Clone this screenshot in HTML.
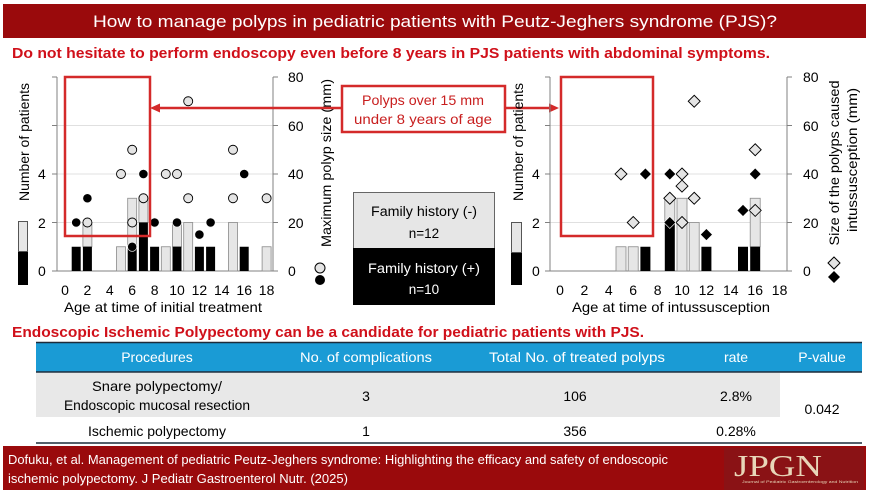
<!DOCTYPE html>
<html><head><meta charset="utf-8"><style>
html,body{margin:0;padding:0;background:#fff;}
svg{display:block;font-family:"Liberation Sans",sans-serif;}
</style></head><body>
<svg width="869" height="492" viewBox="0 0 869 492" xmlns="http://www.w3.org/2000/svg">
<!-- header -->
<rect x="3" y="4" width="863" height="34" fill="#9a0a0c"/>
<text x="435" y="27" fill="#fff" font-size="17" text-anchor="middle" textLength="684" lengthAdjust="spacingAndGlyphs">How to manage polyps in pediatric patients with Peutz-Jeghers syndrome (PJS)?</text>
<text x="12" y="58" fill="#d0101a" font-size="15" font-weight="bold" textLength="758" lengthAdjust="spacingAndGlyphs">Do not hesitate to perform endoscopy even before 8 years in PJS patients with abdominal symptoms.</text>

<!-- LEFT CHART -->
<g stroke="#e0e0e0" stroke-width="1">
<line x1="57" y1="222.5" x2="273" y2="222.5"/><line x1="57" y1="174" x2="273" y2="174"/><line x1="57" y1="125.5" x2="273" y2="125.5"/>
</g>
<g stroke="#808080" stroke-width="1" fill="none">
<line x1="57" y1="77" x2="57" y2="271"/><line x1="273" y1="77" x2="273" y2="271"/><line x1="57" y1="271" x2="273" y2="271"/>
<line x1="52" y1="77" x2="57" y2="77"/><line x1="52" y1="271" x2="57" y2="271"/><line x1="52" y1="222.5" x2="57" y2="222.5"/><line x1="52" y1="174" x2="57" y2="174"/><line x1="52" y1="125.5" x2="57" y2="125.5"/>
<line x1="273" y1="77" x2="278" y2="77"/><line x1="273" y1="125.5" x2="278" y2="125.5"/><line x1="273" y1="174" x2="278" y2="174"/><line x1="273" y1="222.5" x2="278" y2="222.5"/><line x1="273" y1="271" x2="278" y2="271"/>
</g>
<g fill="#e6e6e6" stroke="#8a8a8a" stroke-width="0.8">
<rect x="82.9" y="222.5" width="9" height="24.25"/>
<rect x="116.5" y="246.75" width="9" height="24.25"/>
<rect x="127.7" y="198.25" width="9" height="48.5"/>
<rect x="138.9" y="198.25" width="9" height="24.25"/>
<rect x="161.3" y="246.75" width="9" height="24.25"/>
<rect x="172.5" y="222.5" width="9" height="24.25"/>
<rect x="183.7" y="222.5" width="9" height="48.5"/>
<rect x="228.5" y="222.5" width="9" height="48.5"/>
<rect x="262.1" y="246.75" width="9" height="24.25"/>
</g>
<g fill="#000">
<rect x="71.7" y="246.75" width="9" height="24.25"/>
<rect x="82.9" y="246.75" width="9" height="24.25"/>
<rect x="127.7" y="246.75" width="9" height="24.25"/>
<rect x="138.9" y="222.5" width="9" height="48.5"/>
<rect x="150.1" y="246.75" width="9" height="24.25"/>
<rect x="172.5" y="246.75" width="9" height="24.25"/>
<rect x="194.9" y="246.75" width="9" height="24.25"/>
<rect x="206.1" y="246.75" width="9" height="24.25"/>
<rect x="239.7" y="246.75" width="9" height="24.25"/>
</g>
<g stroke="#000" stroke-width="0.9" fill="#e4e4e4">
<circle cx="87.4" cy="222.5" r="4.5"/><circle cx="121" cy="174" r="4.5"/><circle cx="132.2" cy="149.75" r="4.5"/><circle cx="132.2" cy="222.5" r="4.5"/><circle cx="143.4" cy="198.25" r="4.5"/><circle cx="165.8" cy="174" r="4.5"/><circle cx="177" cy="174" r="4.5"/><circle cx="188.2" cy="101.25" r="4.5"/><circle cx="188.2" cy="198.25" r="4.5"/><circle cx="233" cy="149.75" r="4.5"/><circle cx="233" cy="198.25" r="4.5"/><circle cx="266.6" cy="198.25" r="4.5"/>
</g>
<g stroke="#fff" stroke-width="0.6" fill="#000">
<circle cx="76.2" cy="222.5" r="4.6"/><circle cx="87.4" cy="198.25" r="4.6"/><circle cx="132.2" cy="246.75" r="4.6"/><circle cx="143.4" cy="174" r="4.6"/><circle cx="154.6" cy="222.5" r="4.6"/><circle cx="177" cy="222.5" r="4.6"/><circle cx="199.4" cy="234.6" r="4.6"/><circle cx="210.6" cy="222.5" r="4.6"/><circle cx="244.2" cy="174" r="4.6"/>
</g>
<g font-size="14" fill="#000">
<text x="38" y="276">0</text><text x="38" y="228">2</text><text x="38" y="179">4</text>
<text x="288" y="82">80</text><text x="288" y="131">60</text><text x="288" y="179">40</text><text x="288" y="228">20</text><text x="288" y="276">0</text>
</g>
<g font-size="14" text-anchor="middle">
<text x="65" y="295">0</text><text x="87.4" y="295">2</text><text x="109.8" y="295">4</text><text x="132.2" y="295">6</text><text x="154.6" y="295">8</text><text x="177" y="295">10</text><text x="199.4" y="295">12</text><text x="221.8" y="295">14</text><text x="244.2" y="295">16</text><text x="266.6" y="295">18</text>
<text x="163" y="312" textLength="198" lengthAdjust="spacingAndGlyphs">Age at time of initial treatment</text>
<text transform="translate(29,142) rotate(-90)" textLength="118" lengthAdjust="spacingAndGlyphs">Number of patients</text>
<text transform="translate(331,163) rotate(-90)" textLength="168" lengthAdjust="spacingAndGlyphs">Maximum polyp size (mm)</text>
</g>
<rect x="18.5" y="221.5" width="9" height="30" fill="#e6e6e6" stroke="#555" stroke-width="1"/>
<rect x="18" y="252" width="10" height="33" fill="#000"/>
<circle cx="320" cy="268" r="5" fill="#e4e4e4" stroke="#000"/>
<circle cx="320" cy="280" r="5" fill="#000"/>
<rect x="65" y="77" width="85" height="159" fill="none" stroke="#d42a2a" stroke-width="2.5"/>

<!-- callout -->
<line x1="341" y1="108" x2="158" y2="108" stroke="#d42a2a" stroke-width="2.5"/>
<polygon points="150,108 160,103.5 160,112.5" fill="#d42a2a"/>
<line x1="505" y1="108" x2="551" y2="108" stroke="#d42a2a" stroke-width="2.5"/>
<polygon points="559,108 549,103.5 549,112.5" fill="#d42a2a"/>
<rect x="342" y="86" width="163" height="46" fill="#fff" stroke="#d42a2a" stroke-width="2.5"/>
<text x="423" y="105" fill="#c81e1e" font-size="13.5" text-anchor="middle" textLength="122" lengthAdjust="spacingAndGlyphs">Polyps over 15 mm</text>
<text x="423" y="124" fill="#c81e1e" font-size="13.5" text-anchor="middle" textLength="138" lengthAdjust="spacingAndGlyphs">under 8 years of age</text>

<!-- legend box -->
<rect x="353.5" y="192.5" width="141" height="56" fill="#e6e6e6" stroke="#666" stroke-width="1"/>
<rect x="353" y="248" width="142" height="57" fill="#000"/>
<g font-size="13.5" text-anchor="middle">
<text x="424" y="216" textLength="106" lengthAdjust="spacingAndGlyphs">Family history (-)</text>
<text x="424" y="238">n=12</text>
<text x="424" y="273" fill="#fff" textLength="112" lengthAdjust="spacingAndGlyphs">Family history (+)</text>
<text x="424" y="294" fill="#fff">n=10</text>
</g>

<!-- RIGHT CHART -->
<g stroke="#e0e0e0" stroke-width="1">
<line x1="550" y1="222.5" x2="787" y2="222.5"/><line x1="550" y1="174" x2="787" y2="174"/><line x1="550" y1="125.5" x2="787" y2="125.5"/>
</g>
<g stroke="#808080" stroke-width="1" fill="none">
<line x1="550" y1="77" x2="550" y2="271"/><line x1="787" y1="77" x2="787" y2="271"/><line x1="550" y1="271" x2="787" y2="271"/>
<line x1="545" y1="77" x2="550" y2="77"/><line x1="545" y1="125.5" x2="550" y2="125.5"/><line x1="545" y1="174" x2="550" y2="174"/><line x1="545" y1="222.5" x2="550" y2="222.5"/><line x1="545" y1="271" x2="550" y2="271"/>
<line x1="787" y1="77" x2="792" y2="77"/><line x1="787" y1="125.5" x2="792" y2="125.5"/><line x1="787" y1="174" x2="792" y2="174"/><line x1="787" y1="222.5" x2="792" y2="222.5"/><line x1="787" y1="271" x2="792" y2="271"/>
</g>
<g fill="#e6e6e6" stroke="#8a8a8a" stroke-width="0.8">
<rect x="616" y="246.75" width="10" height="24.25"/>
<rect x="628.2" y="246.75" width="10" height="24.25"/>
<rect x="664.8" y="198.25" width="10" height="24.25"/>
<rect x="677" y="198.25" width="10" height="72.75"/>
<rect x="689.2" y="222.5" width="10" height="48.5"/>
<rect x="750.2" y="198.25" width="10" height="48.5"/>
</g>
<g fill="#000">
<rect x="640.4" y="246.75" width="10" height="24.25"/>
<rect x="664.8" y="222.5" width="10" height="48.5"/>
<rect x="701.4" y="246.75" width="10" height="24.25"/>
<rect x="738" y="246.75" width="10" height="24.25"/>
<rect x="750.2" y="246.75" width="10" height="24.25"/>
</g>
<g stroke="#000" stroke-width="0.9" fill="#e4e4e4">
<path d="M621 168l6 6-6 6-6-6z"/><path d="M633.2 216.5l6 6-6 6-6-6z"/><path d="M669.8 192.25l6 6-6 6-6-6z"/><path d="M682 168l6 6-6 6-6-6z"/><path d="M682 180.1l6 6-6 6-6-6z"/><path d="M682 216.5l6 6-6 6-6-6z"/><path d="M694.2 95.25l6 6-6 6-6-6z"/><path d="M694.2 192.25l6 6-6 6-6-6z"/><path d="M755.2 143.75l6 6-6 6-6-6z"/><path d="M755.2 204.4l6 6-6 6-6-6z"/>
</g>
<g stroke="#fff" stroke-width="0.6" fill="#000">
<path d="M645.4 168l6 6-6 6-6-6z"/><path d="M669.8 168l6 6-6 6-6-6z"/><path d="M669.8 216.5l6 6-6 6-6-6z"/><path d="M706.4 228.6l6 6-6 6-6-6z"/><path d="M743 204.4l6 6-6 6-6-6z"/><path d="M755.2 168l6 6-6 6-6-6z"/>
</g>
<g font-size="14" fill="#000">
<text x="532" y="276">0</text><text x="532" y="228">2</text><text x="532" y="179">4</text>
<text x="803" y="82">80</text><text x="803" y="131">60</text><text x="803" y="179">40</text><text x="803" y="228">20</text><text x="803" y="276">0</text>
</g>
<g font-size="14" text-anchor="middle">
<text x="560" y="295">0</text><text x="584.4" y="295">2</text><text x="608.8" y="295">4</text><text x="633.2" y="295">6</text><text x="657.6" y="295">8</text><text x="682" y="295">10</text><text x="706.4" y="295">12</text><text x="730.8" y="295">14</text><text x="755.2" y="295">16</text><text x="779.6" y="295">18</text>
<text x="671" y="312" textLength="198" lengthAdjust="spacingAndGlyphs">Age at time of intussusception</text>
<text transform="translate(523,142) rotate(-90)" textLength="118" lengthAdjust="spacingAndGlyphs">Number of patients</text>
<text transform="translate(839,163) rotate(-90)" textLength="165" lengthAdjust="spacingAndGlyphs">Size of the polyps caused</text>
<text transform="translate(857,160) rotate(-90)" textLength="144" lengthAdjust="spacingAndGlyphs">intussusception (mm)</text>
</g>
<rect x="511.5" y="222.5" width="10" height="30" fill="#e6e6e6" stroke="#555" stroke-width="1"/>
<rect x="511" y="253" width="11" height="32" fill="#000"/>
<path d="M834 257l6 6-6 6-6-6z" fill="#e4e4e4" stroke="#000"/>
<path d="M834 271l6 6-6 6-6-6z" fill="#000"/>
<rect x="561" y="77" width="92" height="159" fill="none" stroke="#d42a2a" stroke-width="2.5"/>

<!-- table section -->
<text x="12" y="337" fill="#d0101a" font-size="15" font-weight="bold" textLength="632" lengthAdjust="spacingAndGlyphs">Endoscopic Ischemic Polypectomy can be a candidate for pediatric patients with PJS.</text>
<rect x="36" y="342" width="826" height="30" fill="#1a9bd5"/>
<line x1="36" y1="342.5" x2="862" y2="342.5" stroke="#1c2b3a" stroke-width="1.5"/>
<line x1="36" y1="372" x2="862" y2="372" stroke="#1c2b3a" stroke-width="1.5"/>
<rect x="36" y="373" width="744" height="44" fill="#e8e8e8"/>
<line x1="36" y1="443" x2="862" y2="443" stroke="#1c2b3a" stroke-width="1.5"/>
<g font-size="14" text-anchor="middle" fill="#fff">
<text x="157" y="362">Procedures</text>
<text x="366" y="362" textLength="132" lengthAdjust="spacingAndGlyphs">No. of complications</text>
<text x="577" y="362" textLength="176" lengthAdjust="spacingAndGlyphs">Total No. of treated polyps</text>
<text x="736" y="362">rate</text>
<text x="822" y="362">P-value</text>
</g>
<g font-size="14" text-anchor="middle" fill="#000">
<text x="157" y="391" textLength="130" lengthAdjust="spacingAndGlyphs">Snare polypectomy/</text>
<text x="157" y="410" textLength="186" lengthAdjust="spacingAndGlyphs">Endoscopic mucosal resection</text>
<text x="366" y="401">3</text>
<text x="575" y="401">106</text>
<text x="736" y="401">2.8%</text>
<text x="822" y="414">0.042</text>
<text x="157" y="436" textLength="138" lengthAdjust="spacingAndGlyphs">Ischemic polypectomy</text>
<text x="366" y="436">1</text>
<text x="575" y="436">356</text>
<text x="736" y="436">0.28%</text>
</g>

<!-- footer -->
<rect x="3" y="446" width="863" height="44" fill="#9a0a0c"/>
<rect x="724" y="448" width="140" height="42" fill="#8a1215"/>
<text x="8" y="464" fill="#fff" font-size="13" textLength="660" lengthAdjust="spacingAndGlyphs">Dofuku, et al. Management of pediatric Peutz-Jeghers syndrome: Highlighting the efficacy and safety of endoscopic</text>
<text x="8" y="483" fill="#fff" font-size="13" textLength="340" lengthAdjust="spacingAndGlyphs">ischemic polypectomy. J Pediatr Gastroenterol Nutr. (2025)</text>
<text x="734" y="476" fill="#e8d6b8" font-family="Liberation Serif,serif" font-size="31" textLength="88" lengthAdjust="spacingAndGlyphs">JPGN</text>
<text x="742" y="483" fill="#e8d6b8" font-size="4" textLength="116" lengthAdjust="spacingAndGlyphs">Journal of Pediatric Gastroenterology and Nutrition</text>
</svg>
</body></html>
